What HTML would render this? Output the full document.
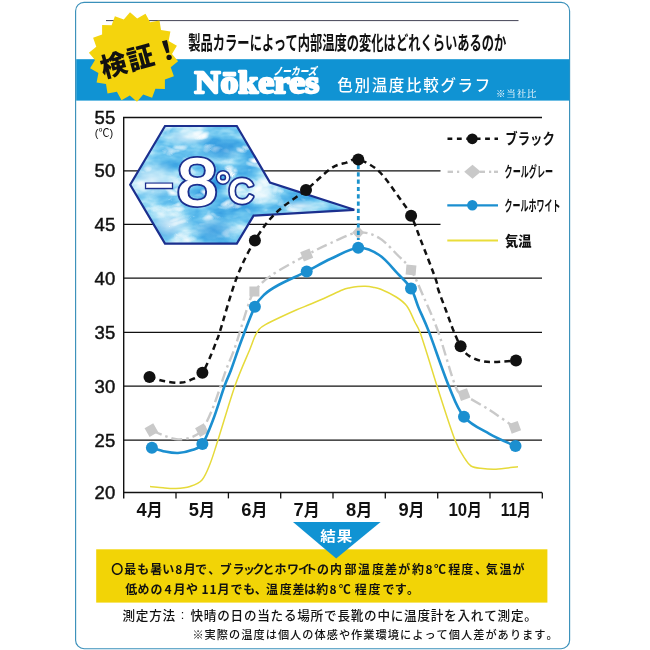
<!DOCTYPE html>
<html lang="ja"><head><meta charset="utf-8"><title>Nokeres 色別温度比較グラフ</title>
<style>html,body{margin:0;padding:0;background:#fff}svg{display:block}text{white-space:pre}</style>
</head><body>
<svg width="650" height="650" viewBox="0 0 650 650">
<defs>
<filter id="ice" x="0" y="0" width="100%" height="100%" color-interpolation-filters="sRGB"><feTurbulence type="fractalNoise" baseFrequency="0.025 0.05" numOctaves="4" seed="11" result="n"/><feColorMatrix in="n" type="matrix" values="1 0 0 0 0  1 0 0 0 0  1 0 0 0 0  0 0 0 0 1" result="g"/><feComponentTransfer in="g" result="base"><feFuncR type="table" tableValues="0.14 0.16 0.20 0.26 0.34 0.44 0.58 0.76 0.90 1 1"/><feFuncG type="table" tableValues="0.52 0.55 0.60 0.66 0.72 0.78 0.85 0.92 0.97 1 1"/><feFuncB type="table" tableValues="0.83 0.85 0.88 0.90 0.92 0.94 0.96 0.98 0.99 1 1"/></feComponentTransfer><feTurbulence type="turbulence" baseFrequency="0.045 0.07" numOctaves="2" seed="4" result="t"/><feColorMatrix in="t" type="matrix" values="0 0 0 0 1  0 0 0 0 1  0 0 0 0 1  0 3.0 0 0 -1.0" result="w"/><feMerge result="m"><feMergeNode in="base"/><feMergeNode in="w"/></feMerge><feComposite in="m" in2="SourceGraphic" operator="in"/></filter>
<radialGradient id="gl" cx="0.5" cy="0.5" r="0.5"><stop offset="0" stop-color="#fff" stop-opacity="0.75"/><stop offset="1" stop-color="#fff" stop-opacity="0"/></radialGradient>
<radialGradient id="gd" cx="0.5" cy="0.5" r="0.5"><stop offset="0" stop-color="#2488d8" stop-opacity="0.6"/><stop offset="1" stop-color="#2488d8" stop-opacity="0"/></radialGradient>
<clipPath id="ac"><polygon points="165,126 236.8,126 270,182.5 354.3,209.8 253.6,215.6 236.8,243.6 165,243.6 130.2,184.8"/></clipPath>
</defs>
<rect width="650" height="650" fill="#fff"/>
<rect x="75.6" y="2.4" width="494" height="646.3" rx="8.5" ry="8.5" fill="#fff" stroke="#3a90ba" stroke-width="1.15"/>
<rect x="106" y="20" width="412.5" height="1.1" fill="#556"/>
<text x="188.3" y="49.6" font-family='"Noto Sans CJK JP","Liberation Sans",sans-serif' font-size="19" font-weight="700" fill="#111" textLength="318" lengthAdjust="spacingAndGlyphs">製品カラーによって内部温度の変化はどれくらいあるのか</text>
<rect x="76.2" y="59.2" width="493.3" height="41.4" fill="#1093d3"/>
<polygon points="130.0,12.3 137.2,18.6 145.5,13.8 150.1,22.2 159.5,20.5 161.0,29.9 170.4,31.6 168.6,41.0 176.9,45.8 172.0,54.0 178.1,61.3 170.7,67.3 173.9,76.3 164.9,79.4 164.9,89.0 155.4,88.8 152.1,97.8 143.2,94.4 137.0,101.7 129.8,95.4 121.5,100.2 116.9,91.8 107.5,93.5 106.0,84.1 96.6,82.4 98.4,73.0 90.1,68.2 95.0,60.0 88.9,52.7 96.3,46.7 93.1,37.7 102.1,34.6 102.1,25.0 111.6,25.2 114.9,16.2 123.8,19.6" fill="#f4d40d"/>
<text transform="translate(143 67) rotate(-15.5)" text-anchor="middle" font-family='"Noto Sans CJK JP","Liberation Sans",sans-serif' font-size="26.5" font-weight="900" fill="#111" textLength="82" lengthAdjust="spacing">検証！</text>
<text x="194.6" y="92.6" font-family='"Liberation Serif","Noto Serif CJK SC",serif' font-size="31" font-weight="700" fill="#fff" stroke="#fff" stroke-width="2.3" stroke-linejoin="round" textLength="124.5" lengthAdjust="spacingAndGlyphs">Nōkeres</text>
<text x="273.6" y="75" font-family='"Noto Sans CJK JP","Liberation Sans",sans-serif' font-size="10.5" font-weight="900" font-style="italic" fill="#fff" textLength="43" lengthAdjust="spacingAndGlyphs">ノーカーズ</text>
<text x="337.3" y="91" font-family='"Noto Sans CJK JP","Liberation Sans",sans-serif' font-size="15.5" font-weight="500" fill="#fff" textLength="153" lengthAdjust="spacing">色別温度比較グラフ</text>
<text x="496" y="97.3" font-family='"Noto Serif CJK SC","Liberation Serif",serif' font-size="9.5" font-weight="400" fill="#fff" textLength="40.5" lengthAdjust="spacing">※当社比</text>
<line x1="123" y1="117.5" x2="542.0" y2="117.5" stroke="#111" stroke-width="1.3"/>
<text x="115.2" y="124.1" text-anchor="end" font-family='"Liberation Sans","Noto Sans CJK JP",sans-serif' font-size="18.5" fill="#111" stroke="#111" stroke-width="0.45">55</text>
<line x1="123" y1="170.8" x2="440.5" y2="170.8" stroke="#111" stroke-width="1.3"/>
<text x="115.2" y="177.4" text-anchor="end" font-family='"Liberation Sans","Noto Sans CJK JP",sans-serif' font-size="18.5" fill="#111" stroke="#111" stroke-width="0.45">50</text>
<line x1="123" y1="224.3" x2="440.5" y2="224.3" stroke="#111" stroke-width="1.3"/>
<text x="115.2" y="230.9" text-anchor="end" font-family='"Liberation Sans","Noto Sans CJK JP",sans-serif' font-size="18.5" fill="#111" stroke="#111" stroke-width="0.45">45</text>
<line x1="123" y1="278.2" x2="542.0" y2="278.2" stroke="#111" stroke-width="1.3"/>
<text x="115.2" y="284.8" text-anchor="end" font-family='"Liberation Sans","Noto Sans CJK JP",sans-serif' font-size="18.5" fill="#111" stroke="#111" stroke-width="0.45">40</text>
<line x1="123" y1="332.4" x2="542.0" y2="332.4" stroke="#111" stroke-width="1.3"/>
<text x="115.2" y="339.0" text-anchor="end" font-family='"Liberation Sans","Noto Sans CJK JP",sans-serif' font-size="18.5" fill="#111" stroke="#111" stroke-width="0.45">35</text>
<line x1="123" y1="386.1" x2="542.0" y2="386.1" stroke="#111" stroke-width="1.3"/>
<text x="115.2" y="392.7" text-anchor="end" font-family='"Liberation Sans","Noto Sans CJK JP",sans-serif' font-size="18.5" fill="#111" stroke="#111" stroke-width="0.45">30</text>
<line x1="123" y1="440.1" x2="542.0" y2="440.1" stroke="#111" stroke-width="1.3"/>
<text x="115.2" y="446.7" text-anchor="end" font-family='"Liberation Sans","Noto Sans CJK JP",sans-serif' font-size="18.5" fill="#111" stroke="#111" stroke-width="0.45">25</text>
<line x1="123" y1="492.5" x2="542.0" y2="492.5" stroke="#111" stroke-width="1.3"/>
<text x="115.2" y="499.1" text-anchor="end" font-family='"Liberation Sans","Noto Sans CJK JP",sans-serif' font-size="18.5" fill="#111" stroke="#111" stroke-width="0.45">20</text>
<line x1="123.7" y1="116.9" x2="123.7" y2="498.4" stroke="#111" stroke-width="1.4"/>
<text x="104" y="136.8" text-anchor="middle" font-family='"Liberation Sans","Noto Sans CJK JP",sans-serif' font-size="11" fill="#111">(℃)</text>
<line x1="176.0" y1="492.5" x2="176.0" y2="498.4" stroke="#111" stroke-width="1.3"/>
<line x1="228.4" y1="492.5" x2="228.4" y2="498.4" stroke="#111" stroke-width="1.3"/>
<line x1="280.7" y1="492.5" x2="280.7" y2="498.4" stroke="#111" stroke-width="1.3"/>
<line x1="333.0" y1="492.5" x2="333.0" y2="498.4" stroke="#111" stroke-width="1.3"/>
<line x1="385.3" y1="492.5" x2="385.3" y2="498.4" stroke="#111" stroke-width="1.3"/>
<line x1="437.7" y1="492.5" x2="437.7" y2="498.4" stroke="#111" stroke-width="1.3"/>
<line x1="490.0" y1="492.5" x2="490.0" y2="498.4" stroke="#111" stroke-width="1.3"/>
<line x1="542.3" y1="492.5" x2="542.3" y2="498.4" stroke="#111" stroke-width="1.3"/>
<text x="136.5" y="515.7" font-family='"Liberation Sans","Noto Sans CJK JP",sans-serif' font-weight="700" fill="#111" textLength="26.1" lengthAdjust="spacingAndGlyphs"><tspan font-size="19">4</tspan><tspan font-size="16.6" font-family='"Noto Sans CJK JP","Liberation Sans",sans-serif'>月</tspan></text>
<text x="188.8" y="515.7" font-family='"Liberation Sans","Noto Sans CJK JP",sans-serif' font-weight="700" fill="#111" textLength="26.2" lengthAdjust="spacingAndGlyphs"><tspan font-size="19">5</tspan><tspan font-size="16.6" font-family='"Noto Sans CJK JP","Liberation Sans",sans-serif'>月</tspan></text>
<text x="241.2" y="515.7" font-family='"Liberation Sans","Noto Sans CJK JP",sans-serif' font-weight="700" fill="#111" textLength="26.2" lengthAdjust="spacingAndGlyphs"><tspan font-size="19">6</tspan><tspan font-size="16.6" font-family='"Noto Sans CJK JP","Liberation Sans",sans-serif'>月</tspan></text>
<text x="293.6" y="515.7" font-family='"Liberation Sans","Noto Sans CJK JP",sans-serif' font-weight="700" fill="#111" textLength="26.2" lengthAdjust="spacingAndGlyphs"><tspan font-size="19">7</tspan><tspan font-size="16.6" font-family='"Noto Sans CJK JP","Liberation Sans",sans-serif'>月</tspan></text>
<text x="346.0" y="515.7" font-family='"Liberation Sans","Noto Sans CJK JP",sans-serif' font-weight="700" fill="#111" textLength="26.2" lengthAdjust="spacingAndGlyphs"><tspan font-size="19">8</tspan><tspan font-size="16.6" font-family='"Noto Sans CJK JP","Liberation Sans",sans-serif'>月</tspan></text>
<text x="398.4" y="515.7" font-family='"Liberation Sans","Noto Sans CJK JP",sans-serif' font-weight="700" fill="#111" textLength="26.2" lengthAdjust="spacingAndGlyphs"><tspan font-size="19">9</tspan><tspan font-size="16.6" font-family='"Noto Sans CJK JP","Liberation Sans",sans-serif'>月</tspan></text>
<text x="448.5" y="515.7" font-family='"Liberation Sans","Noto Sans CJK JP",sans-serif' font-weight="700" fill="#111" textLength="33.3" lengthAdjust="spacingAndGlyphs"><tspan font-size="19">10</tspan><tspan font-size="16.6" font-family='"Noto Sans CJK JP","Liberation Sans",sans-serif'>月</tspan></text>
<text x="500.8" y="515.7" font-family='"Liberation Sans","Noto Sans CJK JP",sans-serif' font-weight="700" fill="#111" textLength="30.0" lengthAdjust="spacingAndGlyphs"><tspan font-size="19">11</tspan><tspan font-size="16.6" font-family='"Noto Sans CJK JP","Liberation Sans",sans-serif'>月</tspan></text>
<polygon points="165,126 236.8,126 270,182.5 354.3,209.8 253.6,215.6 236.8,243.6 165,243.6 130.2,184.8" fill="#6fb9ea" filter="url(#ice)"/>
<g clip-path="url(#ac)"><ellipse cx="152" cy="180" rx="30" ry="20" fill="url(#gl)"/><ellipse cx="170" cy="224" rx="24" ry="16" fill="url(#gl)"/><ellipse cx="188" cy="137" rx="26" ry="9" fill="url(#gl)"/><ellipse cx="262" cy="196" rx="20" ry="9" fill="url(#gl)"/><ellipse cx="300" cy="206" rx="22" ry="6" fill="url(#gl)"/><ellipse cx="214" cy="230" rx="24" ry="14" fill="url(#gd)"/><ellipse cx="222" cy="150" rx="22" ry="12" fill="url(#gd)"/></g>
<polygon points="165,126 236.8,126 270,182.5 354.3,209.8 253.6,215.6 236.8,243.6 165,243.6 130.2,184.8" fill="none" stroke="#1b2f8e" stroke-width="2.2" stroke-linejoin="miter"/>
<text x="143.8" y="203.1" font-family='"Liberation Sans","Noto Sans CJK JP",sans-serif' font-size="52" fill="#1b2f8e" stroke="#1b2f8e" stroke-width="3" stroke-linejoin="miter">−</text>
<text x="143.8" y="203.1" font-family='"Liberation Sans","Noto Sans CJK JP",sans-serif' font-size="52" fill="#fff" stroke="#fff" stroke-width="0.4">−</text>
<text transform="translate(197.2 205.4) scale(1.1 1)" text-anchor="middle" font-family='"Liberation Sans","Noto Sans CJK JP",sans-serif' font-size="67" fill="#1b2f8e" stroke="#1b2f8e" stroke-width="4.8" stroke-linejoin="round">8</text>
<text transform="translate(197.2 205.4) scale(1.1 1)" text-anchor="middle" font-family='"Liberation Sans","Noto Sans CJK JP",sans-serif' font-size="67" fill="#fff" stroke="#fff" stroke-width="1.3" stroke-linejoin="round">8</text>
<text transform="translate(241.3 203.0) scale(1.0 1)" text-anchor="middle" font-family='"Liberation Sans","Noto Sans CJK JP",sans-serif' font-size="34.5" fill="#1b2f8e" stroke="#1b2f8e" stroke-width="4.8" stroke-linejoin="round">C</text>
<text transform="translate(241.3 203.0) scale(1.0 1)" text-anchor="middle" font-family='"Liberation Sans","Noto Sans CJK JP",sans-serif' font-size="34.5" fill="#fff" stroke="#fff" stroke-width="1.3" stroke-linejoin="round">C</text>
<circle cx="223" cy="177.4" r="4.6" fill="none" stroke="#1b2f8e" stroke-width="5.8"/>
<circle cx="223" cy="177.4" r="4.6" fill="none" stroke="#fff" stroke-width="2.8"/>
<path d="M150.0 486.4 C152.2 486.6 158.7 487.4 163.0 487.8 C167.3 488.2 171.5 488.7 176.0 488.5 C180.5 488.3 185.7 487.9 190.0 486.5 C194.3 485.1 198.7 483.8 202.0 480.0 C205.3 476.2 207.3 470.7 210.0 464.0 C212.7 457.3 213.8 453.0 218.0 440.0 C222.2 427.0 229.7 401.0 235.0 385.8 C240.3 370.6 246.7 357.1 250.0 349.0 C253.3 340.9 253.1 340.3 254.6 337.0 C256.1 333.7 257.4 331.3 259.2 329.2 C261.0 327.1 261.8 326.6 265.4 324.6 C269.0 322.6 275.7 319.4 280.8 317.0 C285.9 314.6 291.1 312.2 296.2 310.0 C301.3 307.8 306.4 306.0 311.5 303.8 C316.6 301.6 321.9 299.3 327.0 297.0 C332.1 294.7 338.5 291.6 342.3 290.0 C346.1 288.4 347.4 288.3 350.0 287.7 C352.6 287.1 355.4 286.7 358.0 286.5 C360.6 286.3 362.9 286.2 365.4 286.3 C367.9 286.4 370.4 286.7 373.0 287.2 C375.6 287.7 376.9 287.6 380.8 289.2 C384.7 290.8 391.8 294.2 396.2 297.0 C400.6 299.8 403.9 302.1 407.0 306.2 C410.1 310.3 412.4 317.1 414.6 321.5 C416.8 325.9 417.7 326.1 420.0 332.3 C422.3 338.5 425.7 349.6 428.5 358.5 C431.3 367.4 432.6 372.4 437.0 386.0 C441.4 399.6 450.2 427.7 455.0 440.0 C459.8 452.3 463.1 455.7 465.8 460.0 C468.5 464.3 468.6 464.6 471.0 466.0 C473.4 467.4 475.8 467.8 480.0 468.3 C484.2 468.8 489.7 469.5 496.0 469.2 C502.3 468.9 514.3 467.1 518.0 466.7" fill="none" stroke="#e6da3a" stroke-width="1.5"/>
<path d="M151.4 430.2 C153.7 431.2 160.6 434.5 165.0 436.0 C169.4 437.5 173.5 439.2 178.0 439.4 C182.5 439.6 188.0 438.5 192.0 437.0 C196.0 435.5 198.6 434.7 201.9 430.2 C205.2 425.7 208.9 417.4 212.0 410.0 C215.1 402.6 218.4 392.5 220.7 385.8 C223.0 379.1 223.6 376.6 226.0 370.0 C228.4 363.4 231.6 357.3 235.3 346.4 C239.0 335.5 245.2 313.8 248.4 304.6 C251.6 295.5 250.7 296.3 254.4 291.5 C258.1 286.7 261.9 281.9 270.6 275.8 C279.3 269.7 296.7 260.5 306.7 255.0 C316.7 249.5 322.2 246.8 330.8 243.0 C339.4 239.2 350.1 233.3 358.2 232.5 C366.3 231.7 372.6 234.2 379.2 238.0 C385.8 241.8 392.2 249.7 397.5 255.0 C402.8 260.3 406.6 263.0 411.0 270.0 C415.4 277.0 419.1 286.6 423.7 297.0 C428.3 307.4 433.1 317.6 438.4 332.4 C443.7 347.2 451.1 375.6 455.4 386.0 C459.7 396.4 458.2 390.6 464.0 394.6 C469.8 398.7 481.6 404.9 490.0 410.3 C498.4 415.8 510.6 424.5 514.7 427.3" fill="none" stroke="#c9c9c9" stroke-width="2.4" stroke-dasharray="11 4 2.5 4"/>
<rect x="146.4" y="425.2" width="10" height="10" fill="#c9c9c9" transform="rotate(-30 151.4 430.2)"/>
<rect x="196.9" y="425.2" width="10" height="10" fill="#c9c9c9" transform="rotate(-30 201.9 430.2)"/>
<rect x="249.4" y="286.5" width="10" height="10" fill="#c9c9c9" transform="rotate(0 254.4 291.5)"/>
<rect x="301.7" y="250.0" width="10" height="10" fill="#c9c9c9" transform="rotate(-22 306.7 255.0)"/>
<polygon points="358.2,226.0 364.2,232.5 358.2,239.0 352.2,232.5" fill="#c9c9c9"/>
<rect x="406.0" y="265.0" width="10" height="10" fill="#c9c9c9" transform="rotate(5 411.0 270.0)"/>
<rect x="459.0" y="389.6" width="10" height="10" fill="#c9c9c9" transform="rotate(-20 464.0 394.6)"/>
<rect x="509.7" y="422.3" width="10" height="10" fill="#c9c9c9" transform="rotate(-20 514.7 427.3)"/>
<line x1="358.3" y1="165" x2="358.3" y2="240" stroke="#1b92cc" stroke-width="2.8" stroke-dasharray="4.2 3.1"/>
<path d="M151.9 447.7 C154.1 448.3 160.7 450.6 165.0 451.5 C169.3 452.4 173.5 453.2 178.0 453.0 C182.5 452.8 187.9 451.5 192.0 450.0 C196.1 448.5 198.9 449.0 202.4 444.0 C205.9 439.0 209.3 429.7 213.0 420.0 C216.7 410.3 221.6 394.1 224.6 385.8 C227.6 377.5 228.2 377.6 231.0 370.0 C233.8 362.4 237.6 350.6 241.6 340.0 C245.6 329.4 251.0 314.4 254.9 306.7 C258.8 299.0 261.1 297.6 265.0 294.0 C268.9 290.4 271.6 288.8 278.5 285.0 C285.4 281.2 298.0 275.8 306.7 271.4 C315.4 267.0 322.2 262.7 330.8 258.8 C339.4 254.9 350.1 248.4 358.2 247.8 C366.3 247.2 372.6 250.7 379.2 255.0 C385.8 259.3 392.2 267.8 397.5 273.4 C402.8 279.0 407.5 282.8 411.0 288.5 C414.5 294.2 415.5 300.1 418.5 307.4 C421.5 314.7 424.1 319.3 429.2 332.4 C434.2 345.5 443.0 371.9 448.8 386.0 C454.6 400.1 457.2 408.8 464.0 416.8 C470.8 424.8 480.8 428.9 489.4 433.8 C498.0 438.7 511.1 444.1 515.5 446.1" fill="none" stroke="#1b8fd0" stroke-width="2.6"/>
<path d="M149.5 377.1 C152.1 377.8 159.7 380.4 165.0 381.3 C170.3 382.2 176.7 383.1 181.5 382.6 C186.3 382.1 190.5 380.1 194.0 378.5 C197.5 376.9 199.6 376.6 202.4 372.7 C205.2 368.8 208.6 360.4 211.0 355.0 C213.4 349.6 215.4 343.7 216.8 340.0 C218.2 336.3 216.3 342.9 219.6 332.6 C222.9 322.3 230.7 293.4 236.6 278.0 C242.5 262.6 248.4 251.3 254.9 240.5 C261.4 229.7 267.3 221.4 275.8 213.0 C284.3 204.6 296.8 197.4 306.0 190.0 C315.2 182.6 324.1 173.2 330.8 168.6 C337.5 164.0 341.8 164.1 346.4 162.6 C351.0 161.1 352.9 158.1 358.3 159.6 C363.7 161.1 372.1 164.9 379.0 171.4 C385.9 177.9 394.6 191.4 400.0 198.8 C405.4 206.2 407.6 208.8 411.1 215.8 C414.6 222.8 416.9 230.2 421.0 240.7 C425.1 251.2 432.6 270.4 435.5 278.6 C438.4 286.8 436.6 284.6 438.4 290.0 C440.2 295.4 443.7 304.3 446.2 311.0 C448.7 317.7 450.8 324.1 453.2 330.0 C455.6 335.9 458.1 342.0 460.6 346.2 C463.2 350.4 465.0 352.9 468.5 355.4 C472.0 357.9 477.1 359.9 481.5 361.0 C485.9 362.1 488.9 362.1 494.6 362.0 C500.4 361.9 512.4 360.8 516.0 360.6" fill="none" stroke="#111" stroke-width="2.5" stroke-dasharray="6 4.2"/>
<circle cx="151.9" cy="447.7" r="6" fill="#1b8fd0"/>
<circle cx="202.4" cy="444.0" r="6" fill="#1b8fd0"/>
<circle cx="254.9" cy="306.7" r="6" fill="#1b8fd0"/>
<circle cx="306.7" cy="271.4" r="6" fill="#1b8fd0"/>
<circle cx="358.2" cy="247.8" r="6" fill="#1b8fd0"/>
<circle cx="411.0" cy="288.5" r="6" fill="#1b8fd0"/>
<circle cx="464.0" cy="416.8" r="6" fill="#1b8fd0"/>
<circle cx="515.5" cy="446.1" r="6" fill="#1b8fd0"/>
<circle cx="149.5" cy="377.1" r="6" fill="#111"/>
<circle cx="202.4" cy="372.7" r="6" fill="#111"/>
<circle cx="254.9" cy="240.5" r="6" fill="#111"/>
<circle cx="306.0" cy="190.0" r="6" fill="#111"/>
<circle cx="358.3" cy="159.6" r="6" fill="#111"/>
<circle cx="411.1" cy="215.8" r="6" fill="#111"/>
<circle cx="460.6" cy="346.2" r="6" fill="#111"/>
<circle cx="516.0" cy="360.6" r="6" fill="#111"/>
<line x1="447.5" y1="138.8" x2="498" y2="138.8" stroke="#111" stroke-width="2.4" stroke-dasharray="4.8 4.6"/>
<circle cx="472.3" cy="138.8" r="5.4" fill="#111"/>
<text x="505.3" y="144.3" font-family='"Noto Sans CJK JP","Liberation Sans",sans-serif' font-size="15" font-weight="700" fill="#111" textLength="49.5" lengthAdjust="spacingAndGlyphs">ブラック</text>
<line x1="447.6" y1="171.8" x2="453.0" y2="171.8" stroke="#c9c9c9" stroke-width="2.4"/>
<line x1="457.0" y1="171.8" x2="459.2" y2="171.8" stroke="#c9c9c9" stroke-width="2.4"/>
<line x1="480.0" y1="171.8" x2="485.0" y2="171.8" stroke="#c9c9c9" stroke-width="2.4"/>
<line x1="489.0" y1="171.8" x2="491.2" y2="171.8" stroke="#c9c9c9" stroke-width="2.4"/>
<line x1="494.0" y1="171.8" x2="498.0" y2="171.8" stroke="#c9c9c9" stroke-width="2.4"/>
<polygon points="472.5,164.8 480.8,171.8 472.5,178.8 464.2,171.8" fill="#c9c9c9"/>
<text x="504.6" y="177" font-family='"Noto Sans CJK JP","Liberation Sans",sans-serif' font-size="14.5" font-weight="700" fill="#111" textLength="48.5" lengthAdjust="spacingAndGlyphs">クールグレー</text>
<line x1="447.3" y1="205.3" x2="498" y2="205.3" stroke="#1b8fd0" stroke-width="2.2"/>
<circle cx="472.3" cy="205.3" r="5.2" fill="#1b8fd0"/>
<text x="504.6" y="210.8" font-family='"Noto Sans CJK JP","Liberation Sans",sans-serif' font-size="14.5" font-weight="700" fill="#111" textLength="56" lengthAdjust="spacingAndGlyphs">クールホワイト</text>
<line x1="447.3" y1="240.4" x2="498" y2="240.4" stroke="#eadd3a" stroke-width="2"/>
<text x="505" y="245.6" font-family='"Noto Sans CJK JP","Liberation Sans",sans-serif' font-size="13.5" font-weight="900" fill="#111" textLength="26.5" lengthAdjust="spacingAndGlyphs">気温</text>
<rect x="96.2" y="549.3" width="451.2" height="53.3" fill="#f2d406"/>
<polygon points="293,522 380.6,522 336.2,558.5" fill="#1093d3"/>
<text transform="translate(336.3 541.2) scale(1 0.9)" text-anchor="middle" font-family='"Noto Sans CJK JP","Liberation Sans",sans-serif' font-size="15.5" font-weight="700" fill="#fff" textLength="32" lengthAdjust="spacing">結果</text>
<text x="111.3 124.2 137.2 150.2 162.2 175.3 183.8 194.9 208.3 219.8 232.4 243.0 252.6 262.4 274.4 287.1 298.1 305.0 316.9 330.1 344.4 357.9 372.1 384.9 398.2 412.1 425.4 434.1 448.2 461.2 474.9 485.8 499.6 512.4" y="573.9" font-family='"Noto Sans CJK JP","Liberation Sans",sans-serif' font-size="12" font-weight="700" fill="#111">〇最も暑い8月で、ブラックとホワイトの内部温度差が約8℃程度、気温が</text>
<text x="125.2 137.4 150.4 164.4 173.6 186.1 201.6 209.6 217.6 230.6 243.3 254.8 266.0 279.8 292.4 303.9 316.2 329.4 338.8 354.8 368.6 382.6 394.8 407.1" y="594.3" font-family='"Noto Sans CJK JP","Liberation Sans",sans-serif' font-size="12" font-weight="700" fill="#111">低めの4月や11月でも、温度差は約8℃程度です。</text>
<text x="122.4 135.8 149.2 162.6" y="619.8" font-family='"Noto Sans CJK JP","Liberation Sans",sans-serif' font-size="12.6" font-weight="500" fill="#111">測定方法</text>
<text x="182.5" y="619.2" text-anchor="middle" font-family='"Liberation Sans","Noto Sans CJK JP",sans-serif' font-size="12.6" fill="#111">:</text>
<text x="190.5 203.8 217.2 230.6 243.9 257.2 270.6 283.9 297.3 310.6 324.0 337.4 350.7 364.0 377.4 390.8 404.1 417.4 430.8 444.1 457.5 470.8 484.2 497.6 510.9 524.2" y="619.8" font-family='"Noto Sans CJK JP","Liberation Sans",sans-serif' font-size="12.6" font-weight="500" fill="#111">快晴の日の当たる場所で長靴の中に温度計を入れて測定。</text>
<text x="192.4 204.6 216.8 229.0 241.2 253.5 265.7 277.9 290.1 302.3 314.5 326.7 338.9 351.1 363.3 375.6 387.8 400.0 412.2 424.4 436.6 448.8 461.0 473.2 485.4 497.6 509.9 522.1 534.3 546.5" y="639.3" font-family='"Noto Sans CJK JP","Liberation Sans",sans-serif' font-size="11.2" font-weight="500" fill="#111">※実際の温度は個人の体感や作業環境によって個人差があります。</text>
</svg>
</body></html>
